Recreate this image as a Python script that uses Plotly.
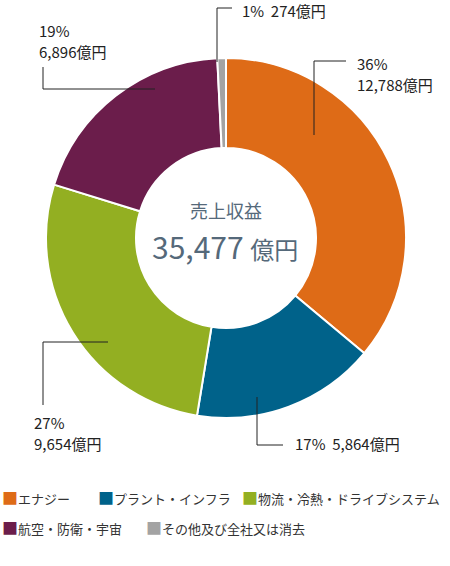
import plotly.graph_objects as go

# 売上収益のセグメント別内訳（億円）
segments = ['エナジー', 'プラント・インフラ', '物流・冷熱・ドライブシステム', '航空・防衛・宇宙', 'その他及び全社又は消去']
values = [12788, 5864, 9654, 6896, 274]
colors = ['#DE6B17', '#00628A', '#93AF22', '#6B1D4B', '#A3A3A3']
total_label = '35,477'

W, H = 450, 566
FONT = 'Noto Sans CJK JP'


def px(x, y):
    # ピクセル座標 -> paper座標
    return x / W, 1 - y / H


total = sum(values)
pcts = [round(v / total * 100) for v in values]

fig = go.Figure()
fig.add_trace(go.Pie(
    labels=segments,
    values=values,
    hole=0.5,
    sort=False,
    direction='clockwise',
    rotation=0,
    textinfo='none',
    hoverinfo='label+value+percent',
    marker=dict(colors=colors, line=dict(color='white', width=2)),
    domain=dict(x=[46 / W, 406 / W], y=[1 - 418 / H, 1 - 58 / H]),
    showlegend=False,
))

annotations = []
shapes = []

def add_text(x, y, text, size=15, color='#222222', anchor='left'):
    ax, ay = px(x, y)
    annotations.append(dict(x=ax, y=ay, xref='paper', yref='paper', text=text,
                            showarrow=False, xanchor=anchor, yanchor='middle',
                            font=dict(family=FONT, size=size, color=color)))

def add_line(x0, y0, x1, y1):
    a, b = px(x0, y0)
    c, d = px(x1, y1)
    shapes.append(dict(type='line', xref='paper', yref='paper', x0=a, y0=b, x1=c, y1=d,
                       line=dict(color='#222222', width=1)))

def yen(v):
    return f'{v:,}億円'

# ラベル（エナジー）
add_text(355, 63, f'{pcts[0]}%')
add_text(355, 85, yen(values[0]))
add_line(314, 61, 346, 61)
add_line(314, 61, 314, 135)

# プラント・インフラ
add_text(293, 443, f'{pcts[1]}%  {yen(values[1])}')
add_line(257, 397, 257, 445)
add_line(257, 445, 283, 445)

# 物流・冷熱・ドライブシステム
add_text(32, 422, f'{pcts[2]}%')
add_text(32, 443, yen(values[2]))
add_line(43, 342, 108, 342)
add_line(43, 342, 43, 405)

# 航空・防衛・宇宙
add_text(37, 30, f'{pcts[3]}%')
add_text(37, 52, yen(values[3]))
add_line(43, 67, 43, 89)
add_line(43, 89, 155, 89)

# その他
add_text(240, 10, f'{pcts[4]}%  {yen(values[4])}')
add_line(217, 8, 217, 62)
add_line(217, 8, 232, 8)

# 中央テキスト
add_text(226, 210, '売上収益', size=18, color='#55697A', anchor='center')
add_text(225, 246, f'{total_label} <span style="font-size:24px">億円</span>', size=30,
         color='#55697A', anchor='center')

# 凡例（手書き）
legend_pos = [(0, 497), (96, 497), (240, 497), (0, 527), (144, 527)]
for (lx, ly), name, col in zip(legend_pos, segments, colors):
    add_text(lx, ly, f'<span style="color:{col};font-size:16px">■</span>{name}', size=13,
             color='#333333')

fig.update_layout(
    width=W, height=H,
    margin=dict(l=0, r=0, t=0, b=0),
    paper_bgcolor='white',
    plot_bgcolor='white',
    annotations=annotations,
    shapes=shapes,
    font=dict(family=FONT),
)

# bodyの余白を消す
fig.write_html('out.html', config={'displayModeBar': False},
               post_script="document.body.style.margin='0';")
